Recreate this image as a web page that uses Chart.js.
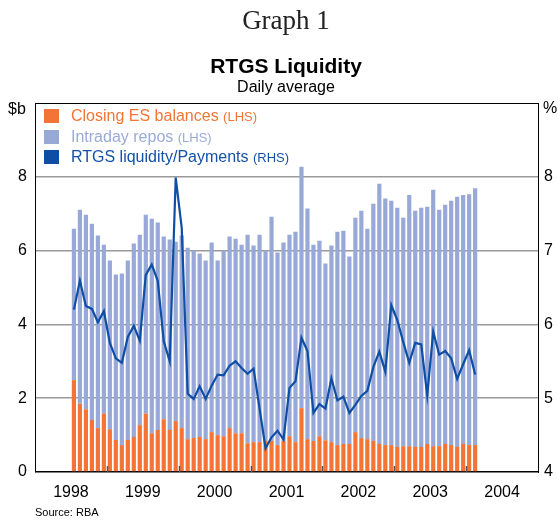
<!DOCTYPE html>
<html>
<head>
<meta charset="utf-8">
<script src="https://cdn.jsdelivr.net/npm/chart.js@4/dist/chart.umd.min.js"></script>
<style>
    body { margin: 0; background: #fff; font-family: "Liberation Sans", Arial, sans-serif; }
    #wrap { position: relative; width: 558px; height: 520px; overflow: hidden; }
    #Chart { position: absolute; left: 0; top: 0; }
    .txt { position: absolute; white-space: nowrap; color: #000; }
    .center { left: 0; width: 572px; text-align: center; }
    #legend { position: absolute; left: 44px; top: 106px; }
    #legend .item { height: 20.5px; line-height: 20.5px; font-size: 16px; }
    #legend .box { display: inline-block; width: 15px; height: 14px; vertical-align: -2px; margin-right: 12px; }
    #legend small { font-size: 13px; }
</style>
</head>
<body>
<div id="wrap">
    <canvas id="Chart" width="558" height="520"></canvas>
    <div class="txt center" style="top:5px;font:27px 'Liberation Serif','Times New Roman',serif;color:#222;">Graph 1</div>
    <div class="txt center" style="top:54px;font:bold 21px 'Liberation Sans',Arial,sans-serif;">RTGS Liquidity</div>
    <div class="txt center" style="top:78px;font-size:16px;">Daily average</div>
    <div class="txt" style="left:8px;top:100px;font-size:16px;">$b</div>
    <div class="txt" style="left:543px;top:99px;font-size:16px;">%</div>
    <div id="legend"></div>
    <div class="txt" style="left:35px;top:506px;font-size:11px;">Source: RBA</div>
</div>
<script>
// monthly, Jul 1998 - Feb 2004
let months = [
    '1998-07', '1998-08', '1998-09', '1998-10', '1998-11', '1998-12',
    '1999-01', '1999-02', '1999-03', '1999-04', '1999-05', '1999-06', '1999-07', '1999-08', '1999-09', '1999-10', '1999-11', '1999-12',
    '2000-01', '2000-02', '2000-03', '2000-04', '2000-05', '2000-06', '2000-07', '2000-08', '2000-09', '2000-10', '2000-11', '2000-12',
    '2001-01', '2001-02', '2001-03', '2001-04', '2001-05', '2001-06', '2001-07', '2001-08', '2001-09', '2001-10', '2001-11', '2001-12',
    '2002-01', '2002-02', '2002-03', '2002-04', '2002-05', '2002-06', '2002-07', '2002-08', '2002-09', '2002-10', '2002-11', '2002-12',
    '2003-01', '2003-02', '2003-03', '2003-04', '2003-05', '2003-06', '2003-07', '2003-08', '2003-09', '2003-10', '2003-11', '2003-12',
    '2004-01', '2004-02'
];

// $b
let esBalances = [
    2.49, 1.85, 1.70, 1.41, 1.19, 1.59,
    1.16, 0.87, 0.73, 0.87, 0.95, 1.27, 1.58, 1.05, 1.14, 1.43, 1.14, 1.38,
    1.19, 0.89, 0.92, 0.95, 0.89, 1.08, 1.00, 0.97, 1.19, 1.05, 1.05, 0.78,
    0.81, 0.81, 0.84, 0.84, 0.73, 0.84, 0.97, 0.81, 1.73, 0.89, 0.84, 0.97,
    0.86, 0.81, 0.73, 0.76, 0.76, 1.08, 0.92, 0.89, 0.84, 0.76, 0.73, 0.73,
    0.68, 0.70, 0.70, 0.68, 0.68, 0.76, 0.70, 0.70, 0.76, 0.73, 0.68, 0.76,
    0.73, 0.73
];

// $b
let intradayRepos = [
    4.10, 5.26, 5.27, 5.32, 5.22, 4.57,
    4.57, 4.48, 4.65, 4.86, 5.24, 5.16, 5.39, 5.81, 5.62, 4.95, 5.16, 4.86,
    5.22, 5.19, 5.08, 4.97, 4.84, 5.14, 4.73, 5.03, 5.19, 5.27, 5.11, 5.65,
    5.33, 5.62, 5.16, 6.08, 5.22, 5.38, 5.46, 5.70, 6.54, 6.25, 5.32, 5.30,
    4.79, 5.33, 5.78, 5.78, 5.08, 5.81, 6.16, 5.70, 6.43, 7.05, 6.68, 6.62,
    6.48, 6.19, 6.81, 6.40, 6.48, 6.43, 6.95, 6.41, 6.48, 6.62, 6.78, 6.75,
    6.80, 6.96
];

// %
let liquidityToPayments = [
    6.20, 6.59, 6.25, 6.21, 6.03, 6.18,
    5.75, 5.54, 5.48, 5.83, 5.98, 5.78, 6.67, 6.81, 6.59, 5.77, 5.50, 7.99,
    7.31, 5.06, 4.99, 5.16, 4.99, 5.17, 5.32, 5.31, 5.44, 5.50, 5.41, 5.33,
    5.40, 4.86, 4.32, 4.47, 4.56, 4.44, 5.14, 5.23, 5.82, 5.64, 4.80, 4.92,
    4.86, 5.27, 4.97, 5.02, 4.80, 4.91, 5.03, 5.10, 5.42, 5.63, 5.36, 6.26,
    6.06, 5.76, 5.48, 5.75, 5.73, 5.04, 5.90, 5.59, 5.64, 5.54, 5.26, 5.46,
    5.65, 5.32
];

let yearLabels = ['1998', '1999', '2000', '2001', '2002', '2003', '2004'];

let colors = {
    es: '#f37436',
    repos: '#98a9d7',
    line: '#0e4ea4'
};

// months since Jan 1998, centred in the month
function monthPos(m) {
    let parts = m.split('-');
    return (parseInt(parts[0]) - 1998) * 12 + parseInt(parts[1]) - 1 + 0.5;
}

function points(values) {
    return months.map(function (m, i) {
        return {x: monthPos(m), y: values[i]};
    });
}

// short inward tick marks at the year boundaries
let yearTicks = {
    id: 'yearTicks',
    afterDatasetsDraw: function (chart) {
        let ctx = chart.ctx;
        let x = chart.scales.x;
        let bottom = chart.chartArea.bottom;
        ctx.save();
        ctx.strokeStyle = '#555';
        ctx.lineWidth = 1.5;
        for (let i = 1; i < yearLabels.length; i++) {
            let px = Math.round(x.getPixelForValue(i * 12)) + 0.5;
            ctx.beginPath();
            ctx.moveTo(px, bottom);
            ctx.lineTo(px, bottom - 6);
            ctx.stroke();
        }
        ctx.restore();
    }
};

let config = {
    type: 'bar',
    data: {
        datasets: [{
            type: 'line',
            label: 'RTGS liquidity/Payments',
            data: points(liquidityToPayments),
            yAxisID: 'y2',
            borderColor: colors.line,
            borderWidth: 2.2,
            pointRadius: 0,
            fill: false,
            order: 0
        }, {
            label: 'Closing ES balances',
            data: points(esBalances),
            backgroundColor: colors.es,
            yAxisID: 'y',
            stack: 'lhs',
            order: 1
        }, {
            label: 'Intraday repos',
            data: points(intradayRepos),
            backgroundColor: colors.repos,
            yAxisID: 'y',
            stack: 'lhs',
            order: 1
        }]
    },
    options: {
        responsive: false,
        animation: false,
        layout: {padding: {top: 103, bottom: 18, left: 0, right: 0}},
        datasets: {bar: {barPercentage: 0.7, categoryPercentage: 1}},
        plugins: {legend: {display: false}, tooltip: {enabled: false}},
        scales: {
            x: {
                type: 'linear',
                min: 0,
                max: 84,
                offset: false,
                stacked: true,
                grid: {display: false},
                border: {display: false},
                ticks: {
                    stepSize: 6,
                    autoSkip: false,
                    maxRotation: 0,
                    padding: 3,
                    color: '#000',
                    font: {size: 16, family: "'Liberation Sans', Arial, sans-serif"},
                    callback: function (v) {
                        return v % 12 === 6 ? yearLabels[(v - 6) / 12] : '';
                    }
                },
                afterFit: function (scale) { scale.height = 30; }
            },
            y: {
                position: 'left',
                stacked: true,
                min: 0,
                max: 10,
                grid: {
                    drawTicks: false,
                    color: function (c) {
                        return (c.tick.value === 0 || c.tick.value === 10) ? '#000' : '#9a9a9a';
                    },
                    lineWidth: function (c) {
                        return c.tick.value === 0 ? 1.6 : (c.tick.value === 10 ? 1 : 1.5);
                    }
                },
                border: {color: '#000', width: 1},
                ticks: {
                    stepSize: 2,
                    padding: 8,
                    color: '#000',
                    font: {size: 16, family: "'Liberation Sans', Arial, sans-serif"},
                    callback: function (v) { return v === 10 ? '' : v; }
                },
                afterFit: function (scale) { scale.width = 35; }
            },
            y2: {
                position: 'right',
                min: 4,
                max: 9,
                grid: {display: false, drawTicks: false},
                border: {color: '#000', width: 1},
                ticks: {
                    stepSize: 1,
                    padding: 6,
                    color: '#000',
                    font: {size: 16, family: "'Liberation Sans', Arial, sans-serif"},
                    callback: function (v) { return v === 9 ? '' : v; }
                },
                afterFit: function (scale) { scale.width = 20; }
            }
        }
    },
    plugins: [yearTicks]
};

function buildLegend() {
    let items = [
        ['Closing ES balances', '(LHS)', colors.es, '#f07636'],
        ['Intraday repos', '(LHS)', colors.repos, '#9aabd8'],
        ['RTGS liquidity/Payments', '(RHS)', colors.line, '#1452a8']
    ];
    let legend = document.getElementById('legend');
    items.forEach(function (item) {
        let row = document.createElement('div');
        row.className = 'item';
        row.style.color = item[3];
        let box = document.createElement('span');
        box.className = 'box';
        box.style.background = item[2];
        row.appendChild(box);
        row.appendChild(document.createTextNode(item[0] + ' '));
        let side = document.createElement('small');
        side.innerText = item[1];
        row.appendChild(side);
        legend.appendChild(row);
    });
}

window.onload = function () {
    let ctx = document.getElementById('Chart').getContext('2d');
    window.myChart = new Chart(ctx, config);
    buildLegend();
};
</script>
</body>
</html>
